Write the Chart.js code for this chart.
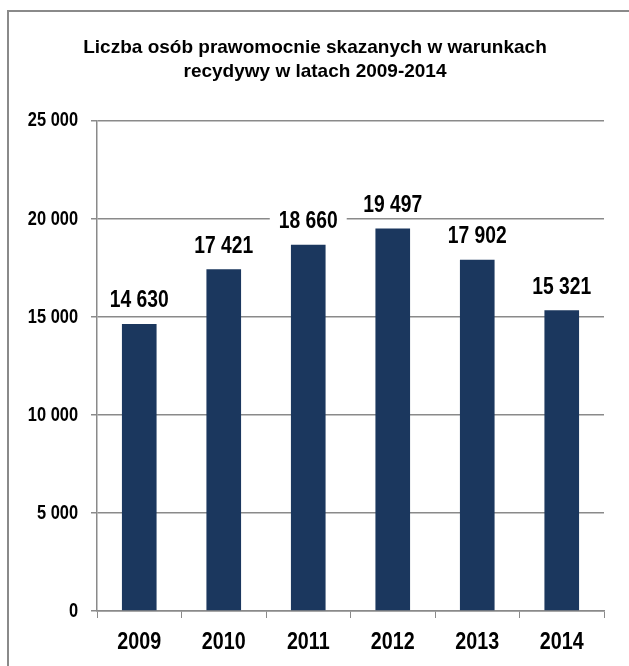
<!DOCTYPE html>
<html>
<head>
<meta charset="utf-8">
<script src="https://cdn.jsdelivr.net/npm/chart.js@4"></script>
<style>
  html, body { margin: 0; padding: 0; background: #fff; overflow: hidden; }
  #frame {
    position: absolute; left: 7px; top: 10px; width: 660px; height: 700px;
    border: 2px solid #8a8a8a; box-sizing: border-box;
  }
  #wrap { position: absolute; left: 0; top: 0; width: 629px; height: 666px; }
</style>
</head>
<body>
<div id="frame"></div>
<div id="wrap"><canvas id="myChart" width="629" height="666"></canvas></div>
<script>
const years = ['2009', '2010', '2011', '2012', '2013', '2014'];
const convicted = [14630, 17421, 18660, 19497, 17902, 15321];
const yTicks = [0, 5000, 10000, 15000, 20000, 25000];
const titleLines = ['Liczba osób prawomocnie skazanych w warunkach', 'recydywy w latach 2009-2014'];

const FONT = "'Liberation Sans', Arial, sans-serif";
const NARROW = 0.82; // imitacja Arial Narrow

// liczby z odstępem tysięcy: 14 630
function fmt(v) {
    return String(v).replace(/\B(?=(\d{3})+(?!\d))/g, ' ');
}

function narrowText(ctx, txt, x, y) {
    ctx.save();
    ctx.translate(x, y);
    ctx.scale(NARROW, 1);
    ctx.fillText(txt, 0, 0);
    ctx.restore();
}

const valueLabels = {
    id: 'valueLabels',
    afterDatasetsDraw(chart) {
        const ctx = chart.ctx;
        const meta = chart.getDatasetMeta(0);
        ctx.save();
        ctx.font = "bold 23.5px " + FONT;
        ctx.textAlign = 'center';
        ctx.textBaseline = 'middle';
        meta.data.forEach(function(bar, i) {
            const txt = fmt(convicted[i]);
            const w = ctx.measureText(txt).width * NARROW;
            const cy = bar.y - 24;
            ctx.fillStyle = '#fff';
            ctx.fillRect(bar.x - w / 2 - 9, cy - 13, w + 18, 26);
            ctx.fillStyle = '#000';
            narrowText(ctx, txt, bar.x, cy + 1);
        });
        ctx.restore();
    }
};

const axisLabels = {
    id: 'axisLabels',
    afterDraw(chart) {
        const ctx = chart.ctx;
        const xs = chart.scales.x, ys = chart.scales.y;
        ctx.save();
        ctx.fillStyle = '#000';
        ctx.textBaseline = 'middle';
        ctx.font = "bold 20px " + FONT;
        ctx.textAlign = 'right';
        yTicks.forEach(function(v) {
            const txt = fmt(v);
            const w = ctx.measureText(txt).width;
            narrowText(ctx, txt, xs.left - 19 + w * (1 - NARROW) * 0, ys.getPixelForValue(v) + 0.5);
        });
        ctx.font = "bold 24px " + FONT;
        ctx.textAlign = 'center';
        years.forEach(function(y, i) {
            narrowText(ctx, y, xs.getPixelForTick(i), 642);
        });
        ctx.restore();
    }
};

new Chart(document.getElementById('myChart'), {
    type: 'bar',
    data: {
        labels: years,
        datasets: [{
            data: convicted,
            backgroundColor: '#1b375e',
            categoryPercentage: 1,
            barPercentage: 0.41
        }]
    },
    options: {
        responsive: false,
        animation: false,
        layout: { padding: { left: 26, right: 25, top: 0, bottom: 10 } },
        plugins: {
            legend: { display: false },
            tooltip: { enabled: false },
            title: {
                display: true,
                text: titleLines,
                color: '#000',
                font: { family: FONT, size: 19, weight: 'bold', lineHeight: 1.3 },
                padding: { top: 35, bottom: 36 }
            }
        },
        scales: {
            x: {
                grid: { drawOnChartArea: false, color: '#8a8a8a', tickLength: 7 },
                border: { color: '#8a8a8a', width: 1.5 },
                ticks: { display: false },
                afterFit(scale) { scale.height = 45; }
            },
            y: {
                min: 0,
                max: 25000,
                ticks: { stepSize: 5000, display: false },
                grid: { color: '#8a8a8a', lineWidth: 1.5, tickLength: 6 },
                border: { color: '#8a8a8a', width: 1.5 },
                afterFit(scale) { scale.width = 71; }
            }
        }
    },
    plugins: [valueLabels, axisLabels]
});
</script>
</body>
</html>
